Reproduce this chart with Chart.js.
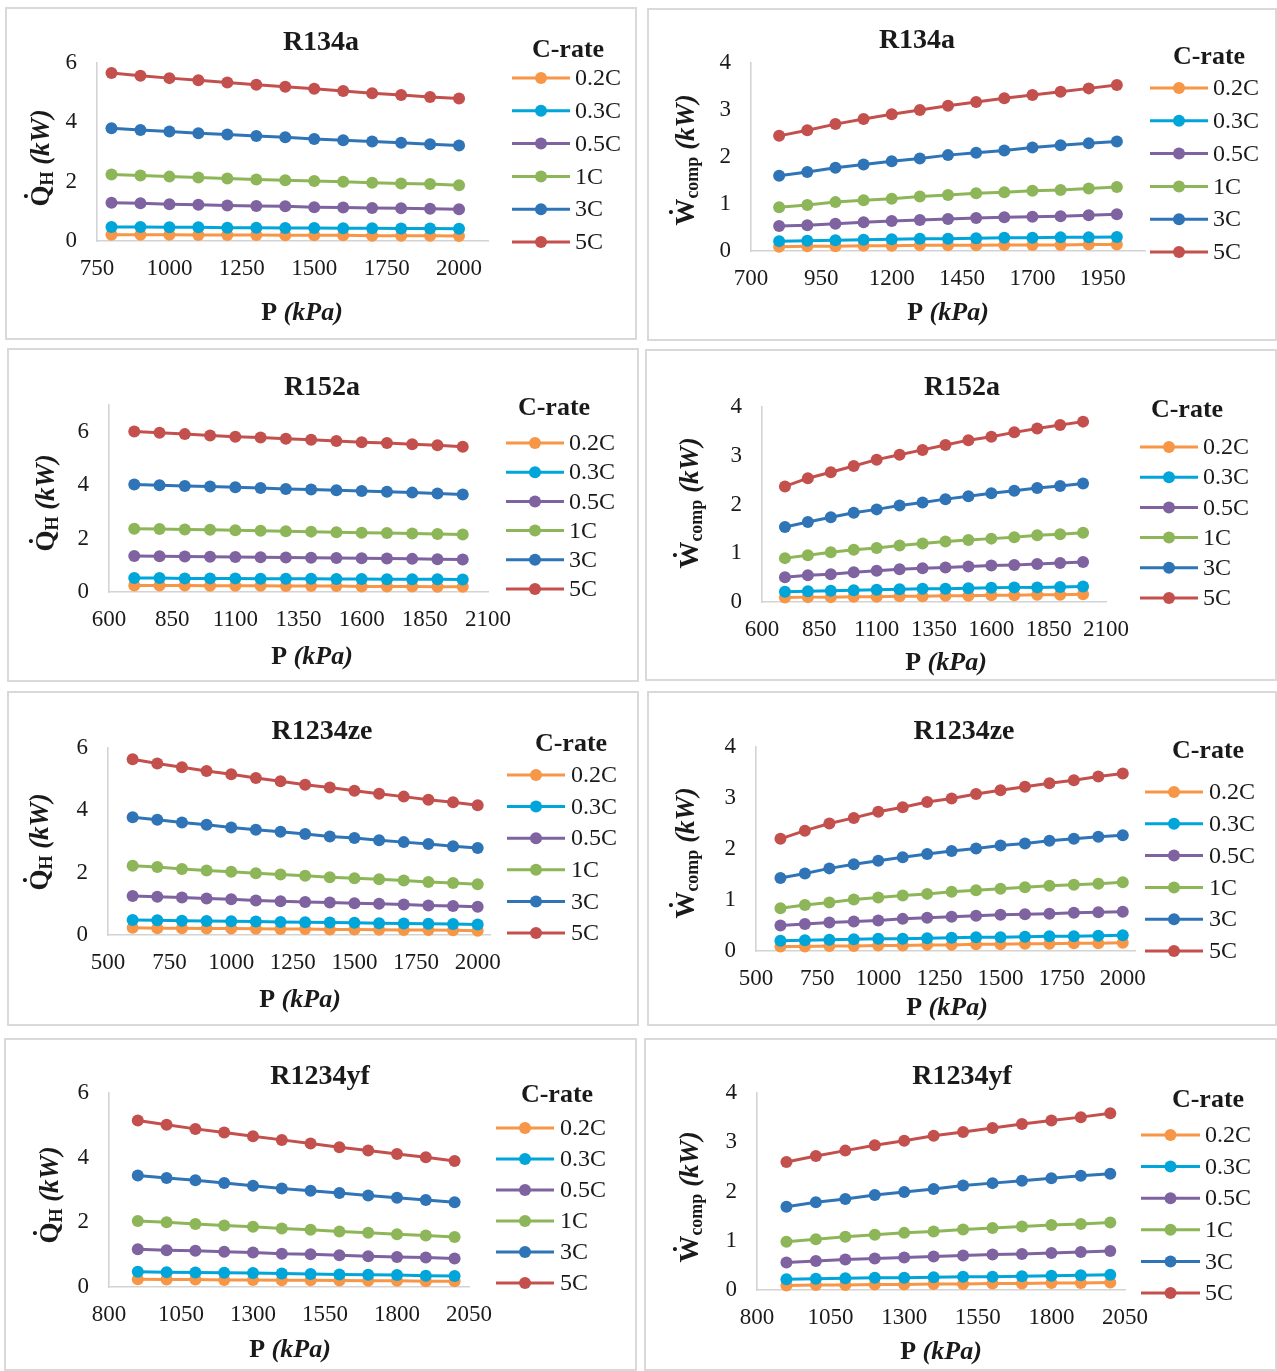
<!DOCTYPE html>
<html>
<head>
<meta charset="utf-8">
<title>Heating capacity and compressor work vs. pressure</title>
<script src="https://cdn.jsdelivr.net/npm/chart.js@4.4.1/dist/chart.umd.min.js"></script>
<style>
  html, body { margin: 0; padding: 0; background: #ffffff; }
  #fig { position: relative; width: 1277px; height: 1371px; overflow: hidden; background: #ffffff; }
  .panel { position: absolute; }
  .panel canvas { position: absolute; left: 0; top: 0; }
  .frame { position: absolute; left: 0; top: 0; right: 0; bottom: 0; border: 2px solid #d9d9d9; box-sizing: border-box; pointer-events: none; }
</style>
</head>
<body>
<div id="fig"></div>
<script>
// ---- series & categories ----
const cRates = ['0.2C', '0.3C', '0.5C', '1C', '3C', '5C'];
const seriesColors = ['#F79646', '#00A5DA', '#7E63A0', '#8DB659', '#2E74B6', '#C3504D'];

// condenser pressure (kPa) for each refrigerant
const pressureR134a   = [800, 900, 1000, 1100, 1200, 1300, 1400, 1500, 1600, 1700, 1800, 1900, 2000];
const pressureR152a   = [700, 800, 900, 1000, 1100, 1200, 1300, 1400, 1500, 1600, 1700, 1800, 1900, 2000];
const pressureR1234ze = [600, 700, 800, 900, 1000, 1100, 1200, 1300, 1400, 1500, 1600, 1700, 1800, 1900, 2000];
const pressureR1234yf = [900, 1000, 1100, 1200, 1300, 1400, 1500, 1600, 1700, 1800, 1900, 2000];

// heating capacity Q_H (kW), one row per C-rate (0.2C, 0.3C, 0.5C, 1C, 3C, 5C)
const qhR134a = [
  [0.21, 0.21, 0.21, 0.20, 0.20, 0.20, 0.19, 0.19, 0.19, 0.18, 0.18, 0.18, 0.17],
  [0.47, 0.47, 0.46, 0.46, 0.45, 0.45, 0.44, 0.44, 0.43, 0.43, 0.42, 0.42, 0.41],
  [1.29, 1.27, 1.24, 1.22, 1.20, 1.18, 1.17, 1.14, 1.13, 1.11, 1.10, 1.09, 1.07],
  [2.24, 2.21, 2.17, 2.14, 2.11, 2.07, 2.05, 2.02, 2.00, 1.96, 1.94, 1.92, 1.88],
  [3.80, 3.74, 3.69, 3.63, 3.59, 3.54, 3.50, 3.44, 3.40, 3.35, 3.31, 3.26, 3.22],
  [5.66, 5.57, 5.49, 5.42, 5.34, 5.27, 5.20, 5.13, 5.06, 4.98, 4.92, 4.85, 4.80]
];
const qhR152a = [
  [0.24, 0.24, 0.24, 0.23, 0.23, 0.23, 0.22, 0.22, 0.22, 0.21, 0.21, 0.21, 0.20, 0.20],
  [0.52, 0.52, 0.51, 0.51, 0.51, 0.50, 0.50, 0.50, 0.49, 0.49, 0.48, 0.48, 0.48, 0.47],
  [1.35, 1.34, 1.33, 1.32, 1.31, 1.30, 1.29, 1.28, 1.27, 1.26, 1.25, 1.24, 1.23, 1.22],
  [2.37, 2.36, 2.34, 2.33, 2.31, 2.29, 2.27, 2.26, 2.24, 2.22, 2.21, 2.19, 2.17, 2.15],
  [4.02, 4.00, 3.97, 3.95, 3.92, 3.89, 3.86, 3.84, 3.81, 3.78, 3.75, 3.72, 3.69, 3.65],
  [6.01, 5.96, 5.91, 5.86, 5.81, 5.78, 5.74, 5.70, 5.65, 5.61, 5.58, 5.53, 5.49, 5.44]
];
const qhR1234ze = [
  [0.23, 0.22, 0.22, 0.21, 0.21, 0.20, 0.19, 0.19, 0.18, 0.18, 0.17, 0.16, 0.16, 0.15, 0.14],
  [0.48, 0.47, 0.46, 0.45, 0.44, 0.43, 0.42, 0.41, 0.40, 0.39, 0.38, 0.37, 0.36, 0.35, 0.34],
  [1.25, 1.23, 1.20, 1.17, 1.15, 1.11, 1.08, 1.06, 1.04, 1.02, 1.00, 0.98, 0.95, 0.93, 0.91],
  [2.22, 2.18, 2.12, 2.07, 2.03, 1.98, 1.94, 1.90, 1.85, 1.82, 1.79, 1.75, 1.70, 1.67, 1.63],
  [3.78, 3.70, 3.61, 3.54, 3.45, 3.38, 3.31, 3.24, 3.16, 3.11, 3.04, 2.98, 2.92, 2.85, 2.79],
  [5.64, 5.50, 5.38, 5.26, 5.16, 5.04, 4.93, 4.82, 4.73, 4.63, 4.53, 4.44, 4.34, 4.26, 4.16]
];
const qhR1234yf = [
  [0.24, 0.23, 0.23, 0.22, 0.22, 0.21, 0.21, 0.20, 0.19, 0.19, 0.18, 0.18],
  [0.47, 0.46, 0.45, 0.44, 0.43, 0.42, 0.40, 0.39, 0.38, 0.37, 0.35, 0.34],
  [1.17, 1.14, 1.12, 1.09, 1.07, 1.03, 1.01, 0.98, 0.95, 0.93, 0.91, 0.88],
  [2.04, 2.00, 1.95, 1.90, 1.86, 1.81, 1.77, 1.72, 1.68, 1.63, 1.59, 1.55],
  [3.45, 3.37, 3.30, 3.22, 3.13, 3.05, 2.98, 2.91, 2.83, 2.76, 2.69, 2.62],
  [5.15, 5.02, 4.89, 4.78, 4.66, 4.55, 4.44, 4.32, 4.22, 4.11, 4.01, 3.90]
];

// compressor work W_comp (kW), one row per C-rate
const wcR134a = [
  [0.09, 0.10, 0.10, 0.11, 0.11, 0.12, 0.12, 0.12, 0.13, 0.13, 0.13, 0.14, 0.14],
  [0.21, 0.22, 0.23, 0.24, 0.25, 0.26, 0.26, 0.27, 0.28, 0.28, 0.29, 0.29, 0.30],
  [0.53, 0.55, 0.58, 0.61, 0.64, 0.66, 0.68, 0.70, 0.72, 0.73, 0.74, 0.76, 0.78],
  [0.93, 0.98, 1.04, 1.08, 1.11, 1.16, 1.19, 1.23, 1.25, 1.28, 1.30, 1.33, 1.36],
  [1.60, 1.68, 1.77, 1.84, 1.91, 1.97, 2.04, 2.09, 2.14, 2.20, 2.25, 2.29, 2.33],
  [2.45, 2.57, 2.70, 2.81, 2.91, 3.00, 3.09, 3.17, 3.25, 3.32, 3.39, 3.46, 3.53]
];
const wcR152a = [
  [0.09, 0.10, 0.10, 0.11, 0.11, 0.12, 0.12, 0.13, 0.13, 0.14, 0.14, 0.15, 0.15, 0.16],
  [0.21, 0.22, 0.23, 0.24, 0.25, 0.26, 0.27, 0.27, 0.28, 0.29, 0.30, 0.30, 0.31, 0.32],
  [0.51, 0.55, 0.57, 0.61, 0.64, 0.67, 0.69, 0.71, 0.73, 0.75, 0.76, 0.78, 0.80, 0.82],
  [0.90, 0.96, 1.02, 1.07, 1.11, 1.16, 1.20, 1.24, 1.27, 1.30, 1.33, 1.37, 1.39, 1.42],
  [1.54, 1.64, 1.74, 1.83, 1.90, 1.98, 2.04, 2.11, 2.17, 2.23, 2.28, 2.34, 2.38, 2.43],
  [2.37, 2.54, 2.66, 2.79, 2.92, 3.02, 3.12, 3.22, 3.32, 3.39, 3.48, 3.56, 3.63, 3.70]
];
const wcR1234ze = [
  [0.09, 0.09, 0.10, 0.10, 0.11, 0.11, 0.12, 0.12, 0.13, 0.13, 0.14, 0.14, 0.15, 0.15, 0.16],
  [0.20, 0.21, 0.22, 0.23, 0.24, 0.24, 0.25, 0.26, 0.27, 0.27, 0.28, 0.29, 0.29, 0.30, 0.31],
  [0.50, 0.53, 0.56, 0.58, 0.60, 0.63, 0.65, 0.67, 0.69, 0.71, 0.72, 0.73, 0.75, 0.76, 0.77],
  [0.84, 0.90, 0.95, 1.01, 1.05, 1.09, 1.12, 1.16, 1.19, 1.22, 1.25, 1.28, 1.30, 1.32, 1.35],
  [1.43, 1.52, 1.62, 1.70, 1.77, 1.84, 1.90, 1.96, 2.01, 2.07, 2.11, 2.16, 2.20, 2.24, 2.27],
  [2.20, 2.36, 2.50, 2.61, 2.73, 2.82, 2.92, 2.99, 3.08, 3.15, 3.22, 3.29, 3.35, 3.42, 3.48]
];
const wcR1234yf = [
  [0.09, 0.10, 0.10, 0.11, 0.11, 0.12, 0.12, 0.13, 0.13, 0.14, 0.14, 0.15],
  [0.22, 0.23, 0.24, 0.25, 0.25, 0.26, 0.27, 0.27, 0.28, 0.29, 0.30, 0.31],
  [0.56, 0.59, 0.62, 0.64, 0.66, 0.68, 0.70, 0.72, 0.73, 0.75, 0.77, 0.79],
  [0.98, 1.03, 1.08, 1.12, 1.16, 1.19, 1.23, 1.26, 1.29, 1.32, 1.34, 1.37],
  [1.69, 1.78, 1.85, 1.93, 1.99, 2.05, 2.12, 2.17, 2.22, 2.27, 2.32, 2.36],
  [2.60, 2.72, 2.83, 2.94, 3.03, 3.13, 3.21, 3.29, 3.37, 3.44, 3.51, 3.59]
];

// ---- tick labels ----
const xTicksR134aQ = [750, 1000, 1250, 1500, 1750, 2000];
const xTicksR134aW = [700, 950, 1200, 1450, 1700, 1950];
const xTicksR152a  = [600, 850, 1100, 1350, 1600, 1850, 2100];
const xTicksR1234ze = [500, 750, 1000, 1250, 1500, 1750, 2000];
const xTicksR1234yf = [800, 1050, 1300, 1550, 1800, 2050];
const yTicksQ = [0, 2, 4, 6];
const yTicksW = [0, 1, 2, 3, 4];

// ---- panel layout (page pixels) ----
const SERIF = '"Liberation Serif", "Times New Roman", serif';
const TEXT = '#1a1a1a';
const AXIS = '#d3d3d3';
const LINE_W = 3;
const DOT_R = 6;

const panels = [
  { name: 'R134a', kind: 'Q', p: pressureR134a, v: qhR134a, xMin: 750, xMax: 2100, xTicks: xTicksR134aQ, yMax: 6, yTicks: yTicksQ,
    box: [5, 7, 632, 333], plot: [97, 488, 63, 241], title: [321, 43],
    legend: { title: [568, 50], y0: 78, dy: 32.8, x0: 512, x1: 570, text: 575 }, yTitle: [40, 158], xTitle: [302, 313] },
  { name: 'R134a', kind: 'W', p: pressureR134a, v: wcR134a, xMin: 700, xMax: 2100, xTicks: xTicksR134aW, yMax: 4, yTicks: yTicksW,
    box: [647, 8, 630, 333], plot: [751, 1145, 63, 251], title: [917, 41],
    legend: { title: [1209, 57], y0: 88, dy: 32.8, x0: 1150, x1: 1208, text: 1213 }, yTitle: [685, 160], xTitle: [948, 313] },
  { name: 'R152a', kind: 'Q', p: pressureR152a, v: qhR152a, xMin: 600, xMax: 2100, xTicks: xTicksR152a, yMax: 7, yTicks: yTicksQ,
    box: [7, 348, 632, 334], plot: [109, 488, 405, 592], title: [322, 388],
    legend: { title: [554, 408], y0: 443, dy: 29.2, x0: 506, x1: 564, text: 569 }, yTitle: [45, 503], xTitle: [312, 657] },
  { name: 'R152a', kind: 'W', p: pressureR152a, v: wcR152a, xMin: 600, xMax: 2100, xTicks: xTicksR152a, yMax: 4, yTicks: yTicksW,
    box: [645, 349, 632, 332], plot: [762, 1106, 407, 602], title: [962, 388],
    legend: { title: [1187, 410], y0: 447, dy: 30.2, x0: 1140, x1: 1198, text: 1203 }, yTitle: [689, 503], xTitle: [946, 663] },
  { name: 'R1234ze', kind: 'Q', p: pressureR1234ze, v: qhR1234ze, xMin: 500, xMax: 2050, xTicks: xTicksR1234ze, yMax: 6, yTicks: yTicksQ,
    box: [7, 691, 632, 335], plot: [108, 490, 748, 935], title: [322, 732],
    legend: { title: [571, 744], y0: 775, dy: 31.6, x0: 507, x1: 565, text: 571 }, yTitle: [39, 842], xTitle: [300, 1000] },
  { name: 'R1234ze', kind: 'W', p: pressureR1234ze, v: wcR1234ze, xMin: 500, xMax: 2050, xTicks: xTicksR1234ze, yMax: 4, yTicks: yTicksW,
    box: [647, 691, 630, 335], plot: [756, 1135, 747, 951], title: [964, 732],
    legend: { title: [1208, 751], y0: 792, dy: 31.8, x0: 1145, x1: 1203, text: 1209 }, yTitle: [685, 853], xTitle: [947, 1008] },
  { name: 'R1234yf', kind: 'Q', p: pressureR1234yf, v: qhR1234yf, xMin: 800, xMax: 2050, xTicks: xTicksR1234yf, yMax: 6, yTicks: yTicksQ,
    box: [4, 1038, 633, 333], plot: [109, 469, 1093, 1287], title: [320, 1077],
    legend: { title: [557, 1095], y0: 1128, dy: 31, x0: 496, x1: 554, text: 560 }, yTitle: [49, 1195], xTitle: [290, 1350] },
  { name: 'R1234yf', kind: 'W', p: pressureR1234yf, v: wcR1234yf, xMin: 800, xMax: 2050, xTicks: xTicksR1234yf, yMax: 4, yTicks: yTicksW,
    box: [644, 1038, 633, 333], plot: [757, 1125, 1093, 1290], title: [962, 1077],
    legend: { title: [1208, 1100], y0: 1135, dy: 31.6, x0: 1141, x1: 1200, text: 1205 }, yTitle: [689, 1197], xTitle: [941, 1352] }
];

// ---- text helpers ----
function drawYTitle(ctx, cx, cy, main, sub) {
  const fMain = 'bold 27px ' + SERIF;
  const fSub = 'bold 18px ' + SERIF;
  const fUnit = 'italic bold 27px ' + SERIF;
  const unit = ' (kW)';
  ctx.save();
  ctx.translate(cx, cy);
  ctx.rotate(-Math.PI / 2);
  ctx.fillStyle = TEXT;
  ctx.textBaseline = 'alphabetic';
  ctx.textAlign = 'left';
  ctx.font = fMain; const wM = ctx.measureText(main).width;
  ctx.font = fSub; const wS = ctx.measureText(sub).width;
  ctx.font = fUnit; const wU = ctx.measureText(unit).width;
  let x = -(wM + wS + wU) / 2;
  const base = 9;
  ctx.font = fMain;
  ctx.fillText(main, x, base);
  ctx.textAlign = 'center';
  ctx.fillText('\u02D9', x + wM / 2, base - 6);
  ctx.textAlign = 'left';
  x += wM;
  ctx.font = fSub;
  ctx.fillText(sub, x, base + 4);
  x += wS;
  ctx.font = fUnit;
  ctx.fillText(unit, x, base);
  ctx.restore();
}

function drawXTitle(ctx, cx, cy) {
  const fMain = 'bold 26px ' + SERIF;
  const fUnit = 'italic bold 26px ' + SERIF;
  ctx.save();
  ctx.fillStyle = TEXT;
  ctx.textBaseline = 'middle';
  ctx.textAlign = 'left';
  ctx.font = fMain; const a = 'P '; const wA = ctx.measureText(a).width;
  ctx.font = fUnit; const b = '(kPa)'; const wB = ctx.measureText(b).width;
  let x = cx - (wA + wB) / 2;
  ctx.font = fMain; ctx.fillText(a, x, cy);
  ctx.font = fUnit; ctx.fillText(b, x + wA, cy);
  ctx.restore();
}

// titles, axis titles and the C-rate legend
const decorPlugin = {
  id: 'decor',
  afterDraw(chart) {
    const cfg = chart.options.plugins.decor;
    const ctx = chart.ctx;
    const ox = cfg.box[0], oy = cfg.box[1];
    ctx.save();
    ctx.fillStyle = TEXT;
    ctx.textAlign = 'center';
    ctx.textBaseline = 'middle';
    ctx.font = 'bold 28px ' + SERIF;
    ctx.fillText(cfg.name, cfg.title[0] - ox, cfg.title[1] - oy);

    const lg = cfg.legend;
    ctx.font = 'bold 26px ' + SERIF;
    ctx.fillText('C-rate', lg.title[0] - ox, lg.title[1] - oy);
    chart.data.datasets.forEach((ds, i) => {
      const y = lg.y0 + i * lg.dy - oy;
      ctx.strokeStyle = ds.borderColor;
      ctx.lineWidth = LINE_W;
      ctx.beginPath();
      ctx.moveTo(lg.x0 - ox, y);
      ctx.lineTo(lg.x1 - ox, y);
      ctx.stroke();
      ctx.fillStyle = ds.backgroundColor;
      ctx.beginPath();
      ctx.arc((lg.x0 + lg.x1) / 2 - ox, y, DOT_R, 0, Math.PI * 2);
      ctx.fill();
      ctx.fillStyle = TEXT;
      ctx.font = '24px ' + SERIF;
      ctx.textAlign = 'left';
      ctx.fillText(ds.label, lg.text - ox, y + 1);
    });
    ctx.restore();

    if (cfg.kind === 'Q') drawYTitle(ctx, cfg.yTitle[0] - ox, cfg.yTitle[1] - oy, 'Q', 'H');
    else drawYTitle(ctx, cfg.yTitle[0] - ox, cfg.yTitle[1] - oy, 'W', 'comp');
    drawXTitle(ctx, cfg.xTitle[0] - ox, cfg.xTitle[1] - oy);
  }
};

const fig = document.getElementById('fig');
const Y_AXIS_W = 50;
const X_AXIS_H = 40;
const plainNumber = (v) => String(v);

panels.forEach((pn) => {
  const [bx, by, bw, bh] = pn.box;
  const [pl, pr, pt, pb] = pn.plot;
  const wrap = document.createElement('div');
  wrap.className = 'panel';
  wrap.style.left = bx + 'px';
  wrap.style.top = by + 'px';
  wrap.style.width = bw + 'px';
  wrap.style.height = bh + 'px';
  const canvas = document.createElement('canvas');
  canvas.width = bw;
  canvas.height = bh;
  canvas.style.width = bw + 'px';
  canvas.style.height = bh + 'px';
  wrap.appendChild(canvas);
  const frame = document.createElement('div');
  frame.className = 'frame';
  wrap.appendChild(frame);
  fig.appendChild(wrap);

  const datasets = pn.v.map((vals, i) => ({
    label: cRates[i],
    data: pn.p.map((x, j) => ({ x: x, y: vals[j] })),
    showLine: true,
    borderColor: seriesColors[i],
    backgroundColor: seriesColors[i],
    borderWidth: LINE_W,
    pointRadius: DOT_R,
    pointHoverRadius: DOT_R,
    pointBorderWidth: 0,
    tension: 0,
    clip: false,
    order: cRates.length - i
  }));

  new Chart(canvas, {
    type: 'scatter',
    data: { datasets },
    options: {
      responsive: false,
      animation: false,
      events: [],
      devicePixelRatio: 1,
      layout: {
        padding: {
          left: (pl - bx) - Y_AXIS_W,
          top: pt - by,
          right: bw - (pr - bx),
          bottom: bh - (pb - by) - X_AXIS_H
        }
      },
      plugins: {
        legend: { display: false },
        tooltip: { enabled: false },
        title: { display: false },
        decor: pn
      },
      scales: {
        x: {
          type: 'linear',
          min: pn.xMin,
          max: pn.xMax,
          afterBuildTicks: (s) => { s.ticks = pn.xTicks.map((v) => ({ value: v })); },
          afterFit: (s) => { s.height = X_AXIS_H; },
          grid: { display: false, drawTicks: false },
          border: { display: true, color: AXIS, width: 1.6 },
          ticks: { color: TEXT, font: { family: SERIF, size: 23 }, padding: 14, maxRotation: 0, minRotation: 0, autoSkip: false, callback: plainNumber }
        },
        y: {
          type: 'linear',
          min: 0,
          max: pn.yMax,
          afterBuildTicks: (s) => { s.ticks = pn.yTicks.map((v) => ({ value: v })); },
          afterFit: (s) => { s.width = Y_AXIS_W; },
          grid: { display: false, drawTicks: false },
          border: { display: true, color: AXIS, width: 1.6 },
          ticks: { color: TEXT, font: { family: SERIF, size: 23 }, padding: 20, autoSkip: false, callback: plainNumber }
        }
      }
    },
    plugins: [decorPlugin]
  });
});
</script>
</body>
</html>
